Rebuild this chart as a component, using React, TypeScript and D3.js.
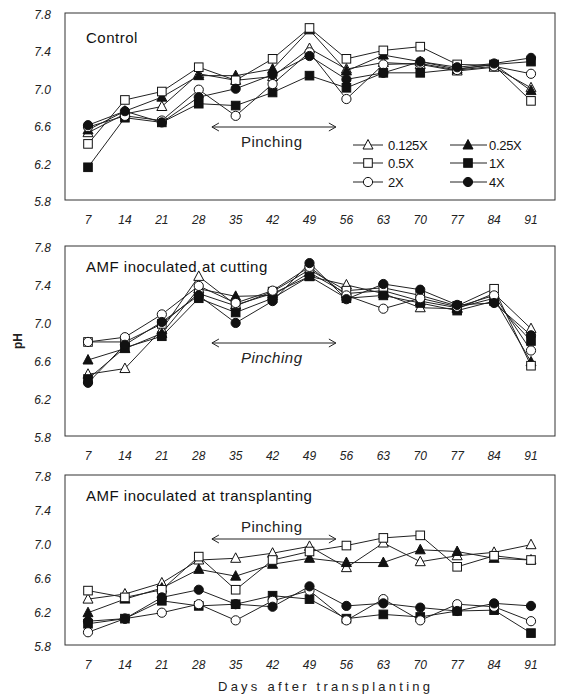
import React from 'react';
import * as d3 from 'd3';

const days = [7, 14, 21, 28, 35, 42, 49, 56, 63, 70, 77, 84, 91];
const yTicks = [5.8, 6.2, 6.6, 7.0, 7.4, 7.8];
const seriesNames = ['0.125X', '0.25X', '0.5X', '1X', '2X', '4X'];
const seriesShapes = ['tri-open', 'tri-filled', 'sq-open', 'sq-filled', 'circ-open', 'circ-filled'];

// Control
const control_0125X = [6.52, 6.72, 6.80, 7.15, 7.08, 7.12, 7.42, 7.20, 7.27, 7.25, 7.18, 7.22, 7.00];
const control_025X = [6.55, 6.75, 6.90, 7.13, 7.13, 7.20, 7.62, 7.18, 7.35, 7.28, 7.20, 7.25, 6.97];
const control_05X = [6.40, 6.87, 6.96, 7.22, 7.08, 7.31, 7.64, 7.31, 7.40, 7.44, 7.25, 7.24, 6.86];
const control_1X = [6.15, 6.68, 6.63, 6.83, 6.81, 6.95, 7.13, 7.00, 7.16, 7.16, 7.20, 7.25, 7.28];
const control_2X = [6.58, 6.70, 6.65, 6.98, 6.70, 7.04, 7.38, 6.88, 7.25, 7.26, 7.19, 7.23, 7.15];
const control_4X = [6.60, 6.75, 6.63, 6.90, 6.99, 7.14, 7.34, 7.09, 7.16, 7.28, 7.22, 7.26, 7.32];

// AMF inoculated at cutting
const cutting_0125X = [6.45, 6.51, 6.92, 7.48, 7.18, 7.30, 7.48, 7.39, 7.30, 7.15, 7.14, 7.30, 6.93];
const cutting_025X = [6.60, 6.72, 6.88, 7.35, 7.27, 7.28, 7.52, 7.30, 7.33, 7.22, 7.15, 7.25, 6.58];
const cutting_05X = [6.79, 6.79, 6.98, 7.30, 7.17, 7.32, 7.55, 7.33, 7.36, 7.28, 7.17, 7.35, 6.54];
const cutting_1X = [6.40, 6.73, 6.85, 7.25, 7.10, 7.25, 7.48, 7.25, 7.28, 7.20, 7.12, 7.22, 6.80];
const cutting_2X = [6.79, 6.84, 7.08, 7.38, 7.20, 7.33, 7.58, 7.28, 7.14, 7.25, 7.16, 7.28, 6.70];
const cutting_4X = [6.36, 6.76, 7.00, 7.28, 6.99, 7.22, 7.62, 7.24, 7.40, 7.34, 7.18, 7.20, 6.86];

// AMF inoculated at transplanting
const transp_0125X = [6.34, 6.40, 6.53, 6.80, 6.82, 6.88, 6.96, 6.71, 7.00, 6.78, 6.85, 6.89, 6.98];
const transp_025X = [6.18, 6.34, 6.47, 6.69, 6.61, 6.75, 6.82, 6.77, 6.77, 6.92, 6.90, 6.82, 6.80];
const transp_05X = [6.44, 6.36, 6.45, 6.84, 6.45, 6.80, 6.90, 6.97, 7.06, 7.09, 6.72, 6.85, 6.80];
const transp_1X = [6.05, 6.11, 6.32, 6.26, 6.28, 6.38, 6.34, 6.11, 6.16, 6.13, 6.20, 6.21, 5.94];
const transp_2X = [5.95, 6.11, 6.18, 6.28, 6.09, 6.32, 6.44, 6.09, 6.34, 6.09, 6.28, 6.25, 6.08];
const transp_4X = [6.08, 6.11, 6.36, 6.45, 6.28, 6.25, 6.49, 6.26, 6.29, 6.24, 6.20, 6.29, 6.26];

const panelTitles = ['Control', 'AMF inoculated at cutting', 'AMF inoculated at transplanting'];
const panelSeries = [
  [control_0125X, control_025X, control_05X, control_1X, control_2X, control_4X],
  [cutting_0125X, cutting_025X, cutting_05X, cutting_1X, cutting_2X, cutting_4X],
  [transp_0125X, transp_025X, transp_05X, transp_1X, transp_2X, transp_4X],
];
const pinchStart = 30.5;
const pinchEnd = 54;
const pinchTextDay = 36;

const FONT = "'Liberation Sans', Arial, Helvetica, sans-serif";
const FRAME_L = 65;
const FRAME_R = 555;

const layouts = [
  { top: 13, bottom: 200, arrowY: 127, textY: 147, italic: false },
  { top: 246, bottom: 436, arrowY: 343, textY: 363, italic: true },
  { top: 475, bottom: 645, arrowY: 539, textY: 532, italic: false },
];

const xScale = d3.scaleLinear().domain([7, 91]).range([88, 531]);

function Marker({ shape, x, y }: { shape: string; x: number; y: number }) {
  const filled = shape.endsWith('filled');
  const fill = filled ? '#111' : '#fff';
  if (shape.startsWith('tri')) {
    const pts = [[x, y - 5.5], [x - 5, y + 4], [x + 5, y + 4]].map((p) => p.join(',')).join(' ');
    return <polygon points={pts} fill={fill} stroke="#111" strokeWidth={1} />;
  }
  if (shape.startsWith('sq')) {
    return <rect x={x - 4.3} y={y - 4.3} width={8.6} height={8.6} fill={fill} stroke="#111" strokeWidth={1} />;
  }
  return <circle cx={x} cy={y} r={4.6} fill={fill} stroke="#111" strokeWidth={1} />;
}

function Arrow({ x1, x2, y }: { x1: number; x2: number; y: number }) {
  return (
    <g stroke="#222" strokeWidth={1} fill="none">
      <line x1={x1} y1={y} x2={x2} y2={y} />
      <polyline points={`${x1 + 7},${y - 4} ${x1},${y} ${x1 + 7},${y + 4}`} />
      <polyline points={`${x2 - 7},${y - 4} ${x2},${y} ${x2 - 7},${y + 4}`} />
    </g>
  );
}

function Panel({ idx }: { idx: number }) {
  const L = layouts[idx];
  const yScale = d3.scaleLinear().domain([5.8, 7.8]).range([L.bottom, L.top]);
  const line = d3
    .line<number>()
    .x((_, i) => xScale(days[i]))
    .y((v) => yScale(v));
  const series = panelSeries[idx];
  return (
    <g>
      <rect x={FRAME_L} y={L.top} width={FRAME_R - FRAME_L} height={L.bottom - L.top} fill="none" stroke="#333" strokeWidth={1} />
      {yTicks.map((t) => (
        <text key={t} x={51} y={yScale(t) + 6} textAnchor="end" fontSize={12} fontFamily={FONT} fill="#222" fontStyle="italic">
          {t.toFixed(1)}
        </text>
      ))}
      {days.map((d) => (
        <text key={d} x={xScale(d)} y={L.bottom + 24} textAnchor="middle" fontSize={12} fontFamily={FONT} fill="#222" fontStyle="italic">
          {d}
        </text>
      ))}
      <text x={86} y={L.top + (idx === 0 ? 30 : 26)} fontSize={15} letterSpacing={0.5} fontFamily={FONT} fill="#111">
        {panelTitles[idx]}
      </text>
      <Arrow x1={xScale(pinchStart)} x2={xScale(pinchEnd)} y={L.arrowY} />
      <text x={xScale(pinchTextDay)} y={L.textY} fontSize={15} letterSpacing={0.5} fontFamily={FONT} fill="#222" fontStyle={L.italic ? 'italic' : 'normal'}>
        Pinching
      </text>
      {series.map((s, si) => (
        <path key={'l' + si} d={line(s) || ''} fill="none" stroke="#222" strokeWidth={1} />
      ))}
      {series.map((s, si) =>
        s.map((v, i) => <Marker key={si + '-' + i} shape={seriesShapes[si]} x={xScale(days[i])} y={yScale(v)} />)
      )}
    </g>
  );
}

function Legend() {
  const rows = [145, 163, 182];
  const cols = [
    { x1: 353, x2: 383, mx: 368, tx: 388 },
    { x1: 450, x2: 487, mx: 468, tx: 489 },
  ];
  return (
    <g>
      {seriesNames.map((name, i) => {
        const r = rows[Math.floor(i / 2)];
        const c = cols[i % 2];
        return (
          <g key={name}>
            <line x1={c.x1} y1={r} x2={c.x2} y2={r} stroke="#222" strokeWidth={1} />
            <Marker shape={seriesShapes[i]} x={c.mx} y={r} />
            <text x={c.tx} y={r + 5} fontSize={13} fontFamily={FONT} fill="#111" letterSpacing={-0.3}>
              {name}
            </text>
          </g>
        );
      })}
    </g>
  );
}

export default function App() {
  return (
    <svg width={561} height={698} style={{ position: 'absolute', left: 0, top: 0, background: '#fff' }}>
      <rect x={0} y={0} width={561} height={698} fill="#fff" />
      {[0, 1, 2].map((i) => (
        <Panel key={i} idx={i} />
      ))}
      <Legend />
      <text transform="translate(22,341) rotate(-90)" textAnchor="middle" fontSize={12} fontWeight="bold" fontFamily={FONT} fill="#222">
        pH
      </text>
      <text x={218} y={691} fontSize={13} fontFamily={FONT} fill="#222" textLength={212} lengthAdjust="spacing">
        Days after transplanting
      </text>
    </svg>
  );
}
